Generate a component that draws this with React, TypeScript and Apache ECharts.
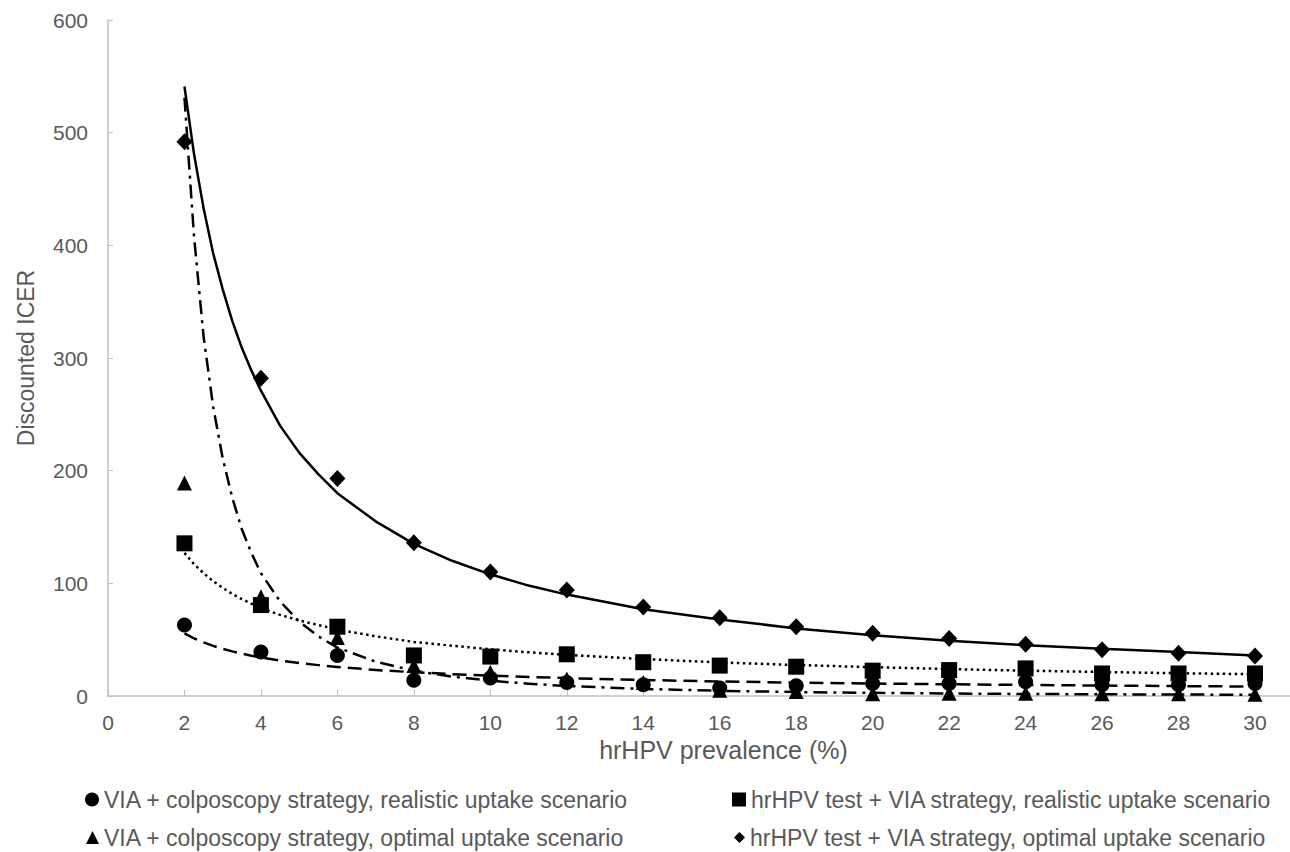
import React, { useEffect, useRef } from "react";
import * as echarts from "echarts";

// hrHPV prevalence (%) for the observed points
const prevalence = [2, 4, 6, 8, 10, 12, 14, 16, 18, 20, 22, 24, 26, 28, 30];

// Discounted ICER, observed points
const viaRealistic = [63, 39, 36, 14, 16, 12, 10, 7, 9, 11, 11, 12.7, 10, 10, 11];
const hpvRealistic = [135.5, 80.7, 61.5, 36, 35, 37, 30, 27, 26, 22.5, 23, 24.5, 20, 20, 20];
const viaOptimal = [189, 88, 52, 27, 21, 15, 12, 5, 4, 2, 2.5, 2.5, 2, 2, 1.5];
const hpvOptimal = [492, 282, 193, 136, 110, 94, 79, 69.5, 61.5, 55.6, 51, 46, 41, 38, 35.5];

// Trend lines
const trendX = [2, 2.25, 2.5, 2.75, 3, 3.25, 3.5, 3.75, 4, 4.5, 5, 5.5, 6, 7, 8, 9, 10, 11, 12, 14, 16, 18, 20, 22, 24, 26, 28, 30];
const viaRealisticTrend = [55.6, 51.2, 47.6, 44.5, 41.9, 39.6, 37.6, 35.8, 34.2, 31.5, 29.3, 27.4, 25.8, 23.1, 21.1, 19.4, 18, 16.9, 15.9, 14.2, 12.9, 11.9, 11.1, 10.4, 9.8, 9.3, 8.8, 8.4];
const hpvRealisticTrend = [127, 117, 109, 102, 96, 90.6, 86, 82, 78, 72, 67, 63, 59, 53, 48, 44.6, 41.5, 38.8, 36.5, 32.8, 29.8, 27.5, 25.6, 23.9, 22.5, 21.3, 20.2, 19.3];
const viaOptimalTrend = [531, 408, 319, 257, 211, 176, 148, 127, 109, 84, 66, 53, 43, 30.5, 22.4, 17.2, 13.6, 10.9, 8.9, 6.3, 4.6, 3.5, 2.8, 2.2, 1.8, 1.5, 1.3, 1.1];
const hpvOptimalTrend = [541, 481, 433, 393, 361, 333, 309, 289, 271, 240, 216, 197, 180, 155, 135, 120, 108, 98, 90, 77, 68, 60, 54, 49, 45, 42, 39, 36];

const yTicks = [0, 100, 200, 300, 400, 500, 600];

const NAME_VR = "VIA + colposcopy strategy, realistic uptake scenario";
const NAME_HR = "hrHPV test + VIA strategy, realistic uptake scenario";
const NAME_VO = "VIA + colposcopy strategy, optimal uptake scenario";
const NAME_HO = "hrHPV test + VIA strategy, optimal uptake scenario";

const FONT = "'Liberation Sans', Arial, sans-serif";
const GRAY = "#595959";
const AXIS = "#bfbfbf";

const pairs = (xs: number[], ys: number[]) => xs.map((x, i) => [x, ys[i]]);

export default function App() {
  const ref = useRef<HTMLDivElement>(null);

  useEffect(() => {
    if (!ref.current) return;
    const chart = echarts.init(ref.current, undefined, { renderer: "svg" });

    const scatter = (name: string, ys: number[], symbol: string, size: any) => ({
      name,
      type: "scatter",
      data: pairs(prevalence, ys),
      symbol,
      symbolSize: size,
      itemStyle: { color: "#000", opacity: 1 },
      z: 3,
    });

    const trend = (name: string, ys: number[], type: any, width: number) => ({
      name,
      type: "line",
      data: pairs(trendX, ys),
      smooth: false,
      showSymbol: false,
      symbol: "none",
      lineStyle: { color: "#000", width, type, cap: "butt", join: "round" },
      z: 4,
      silent: true,
    });

    const legendItem = (name: string, left: number, top: number, size: number) => ({
      orient: "horizontal",
      left,
      top,
      itemWidth: size,
      itemHeight: size,
      textStyle: { fontSize: 23, color: GRAY, fontFamily: FONT },
      selectedMode: false,
      data: [{ name, itemStyle: { color: "#000", opacity: 1 } }],
    });

    chart.setOption({
      animation: false,
      backgroundColor: "#fff",
      textStyle: { fontFamily: FONT },
      grid: { left: 108, right: 35, top: 20, bottom: 156 },
      xAxis: {
        type: "value",
        min: 0,
        max: 30,
        interval: 2,
        name: "hrHPV prevalence (%)",
        nameLocation: "middle",
        nameGap: 36,
        nameTextStyle: { fontSize: 25, color: GRAY, fontFamily: FONT, padding: [0, 0, 0, 84] },
        axisLine: { show: true, lineStyle: { color: AXIS, width: 1.5 } },
        axisTick: { show: true, inside: true, length: 6, lineStyle: { color: AXIS } },
        axisLabel: { fontSize: 21, color: GRAY, margin: 16, fontFamily: FONT },
        splitLine: { show: false },
      },
      yAxis: {
        type: "value",
        min: yTicks[0],
        max: yTicks[yTicks.length - 1],
        interval: 100,
        name: "Discounted ICER",
        nameLocation: "middle",
        nameGap: 71,
        nameTextStyle: { fontSize: 23, color: GRAY, fontFamily: FONT },
        axisLine: { show: true, lineStyle: { color: AXIS, width: 1.5 } },
        axisTick: { show: true, inside: true, length: 5, lineStyle: { color: AXIS } },
        axisLabel: { fontSize: 21, color: GRAY, margin: 20, fontFamily: FONT },
        splitLine: { show: false },
      },
      legend: [
        legendItem(NAME_VR, 80, 783, 14),
        legendItem(NAME_VO, 81, 821, 13),
        legendItem(NAME_HR, 727, 783, 14),
        legendItem(NAME_HO, 729, 821, 11),
      ],
      graphic: [
        {
          type: "line",
          shape: { x1: 1255, y1: 696, x2: 1290, y2: 696 },
          style: { stroke: AXIS, lineWidth: 1.5 },
          silent: true,
        },
      ],
      series: [
        scatter(NAME_VR, viaRealistic, "circle", 15),
        scatter(NAME_HR, hpvRealistic, "rect", 16),
        scatter(NAME_VO, viaOptimal, "triangle", 15),
        scatter(NAME_HO, hpvOptimal, "diamond", [16, 17]),
        trend("Trend VIA realistic", viaRealisticTrend, [14, 7], 2.5),
        trend("Trend hrHPV realistic", hpvRealisticTrend, [2.5, 3.5], 2.5),
        trend("Trend VIA optimal", viaOptimalTrend, [14, 6, 3, 6], 2.5),
        trend("Trend hrHPV optimal", hpvOptimalTrend, "solid", 2.5),
      ],
    });

    return () => chart.dispose();
  }, []);

  return (
    <div
      ref={ref}
      style={{ position: "absolute", left: 0, top: 0, width: 1290, height: 852, background: "#fff" }}
    />
  );
}
